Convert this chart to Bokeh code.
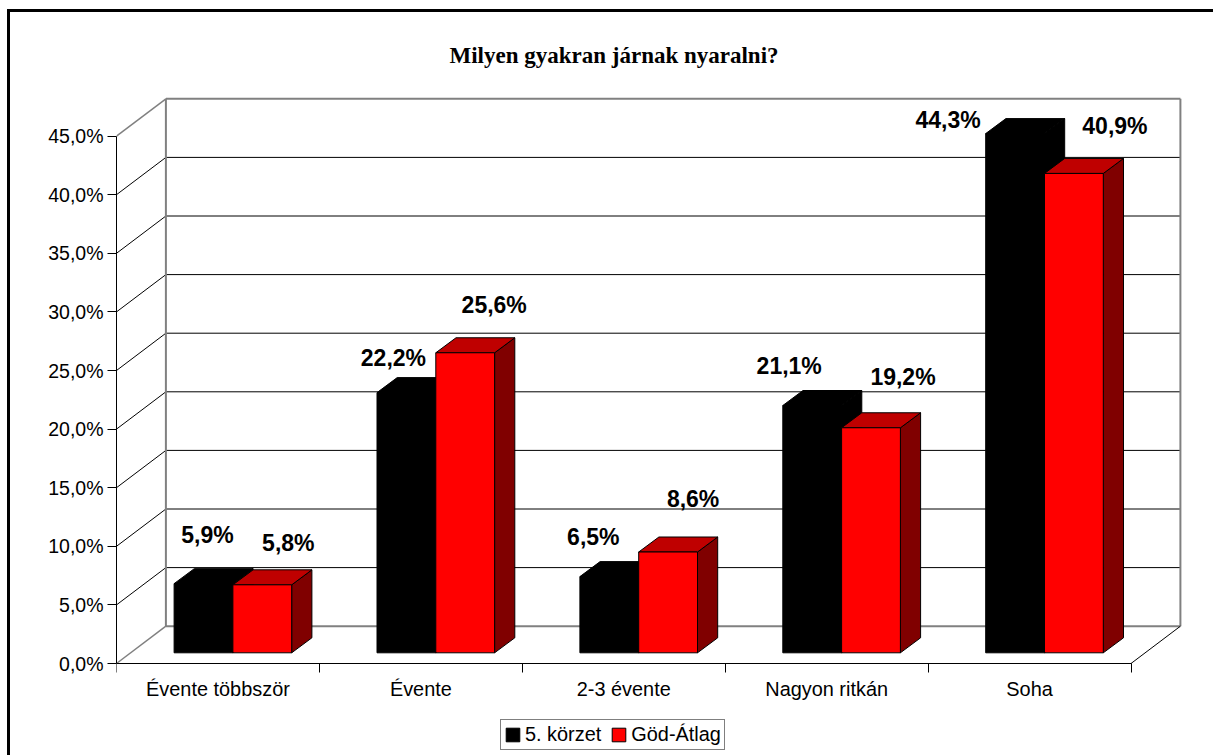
from bokeh.plotting import figure
from bokeh.embed import file_html
from bokeh.resources import INLINE
from bokeh.models import ColumnDataSource, FixedTicker, Range1d, Legend, LegendItem
from bokeh.core.properties import value

categories = ["Évente többször", "Évente", "2-3 évente", "Nagyon ritkán", "Soha"]
series_names = ["5. körzet", "Göd-Átlag"]
korzet = [5.9, 22.2, 6.5, 21.1, 44.3]
god = [5.8, 25.6, 8.6, 19.2, 40.9]
labels_korzet = ["5,9%", "22,2%", "6,5%", "21,1%", "44,3%"]
labels_god = ["5,8%", "25,6%", "8,6%", "19,2%", "40,9%"]
y_ticks = [0, 5, 10, 15, 20, 25, 30, 35, 40, 45]
y_tick_labels = ["0,0%", "5,0%", "10,0%", "15,0%", "20,0%", "25,0%", "30,0%", "35,0%", "40,0%", "45,0%"]

# label nudges relative to bar top centre (px)
lab_dx_k = [4, -13, -16, -23, -67]
lab_dy_k = [49, 35, 40, 40, 14]
lab_dx_g = [26, 29, 25, 32, 41]
lab_dy_g = [42, 48, 53, 51, 47]

OX, OY = 11, 13      # canvas origin on the page, inside the border
W, H = 1206, 746
CAT_PX = 202.9   # px per category
VAL_PX = 11.72   # px per percent
FL, FT = 117 - OX, 94 - OY     # frame left / top within canvas
FW = 1068            # frame width
ABOVE_ZERO, BELOW_ZERO = 570, H - FT - 570   # frame height above and below the zero line
WALL_DX, WALL_DY = 49.4, 37.3   # depth of chart box in px
BAR_OFF_DX, BAR_OFF_DY = 14.1, 10.7  # front of the bars, from the front of the box
BAR_D_DX, BAR_D_DY = 20.2, 15.0      # bar depth
GAP_PX, BAR_PX = 43.5, 58.8

def xd(px): return px / CAT_PX
def yd(px): return px / VAL_PX

p = figure(width=W, height=H, output_backend="svg", toolbar_location=None,
           x_range=Range1d(0, FW / CAT_PX), y_range=Range1d(-BELOW_ZERO / VAL_PX, ABOVE_ZERO / VAL_PX),
           min_border_left=FL, min_border_right=W - FL - FW,
           min_border_top=FT, min_border_bottom=0,
           background_fill_color="white", border_fill_color="white",
           margin=(9, 0, 0, 7),
           styles={"border-left": "3px solid black", "border-top": "3px solid black"})
p.outline_line_color = None
p.grid.visible = False

# box walls
wx, wy = xd(WALL_DX), yd(WALL_DY)
n = len(categories)
inner = y_ticks[1:-1]
p.segment(x0=[wx] * len(inner), y0=[v + wy for v in inner], x1=[n + wx] * len(inner), y1=[v + wy for v in inner],
          line_color="#000000", line_width=1)
p.segment(x0=[0] * len(inner), y0=inner, x1=[wx] * len(inner), y1=[v + wy for v in inner],
          line_color="#000000", line_width=1)
ends = [y_ticks[0], y_ticks[-1]]
p.segment(x0=[wx, wx], y0=[v + wy for v in ends], x1=[n + wx] * 2, y1=[v + wy for v in ends],
          line_color="#808080", line_width=2)
p.segment(x0=[0, 0], y0=ends, x1=[wx, wx], y1=[v + wy for v in ends], line_color="#808080", line_width=1.5)
p.segment(x0=[wx, n + wx], y0=[wy, wy], x1=[wx, n + wx], y1=[y_ticks[-1] + wy] * 2,
          line_color="#808080", line_width=2)
p.segment(x0=[n], y0=[0], x1=[n + wx], y1=[wy], line_color="#000000", line_width=1)

# bars
base = yd(BAR_OFF_DY)
def bar_x(i, s):
    return i + xd(BAR_OFF_DX + GAP_PX) + s * xd(BAR_PX)

def draw(vals, s, front, top_c, side_c):
    left = [bar_x(i, s) for i in range(n)]
    right = [l + xd(BAR_PX) for l in left]
    tops = [base + v for v in vals]
    ddx, ddy = xd(BAR_D_DX), yd(BAR_D_DY)
    p.patches(xs=[[r, r + ddx, r + ddx, r] for r in right],
              ys=[[base, base + ddy, t + ddy, t] for t in tops],
              fill_color=side_c, line_color="black", line_width=1)
    p.patches(xs=[[l, l + ddx, r + ddx, r] for l, r in zip(left, right)],
              ys=[[t, t + ddy, t + ddy, t] for t in tops],
              fill_color=top_c, line_color="black", line_width=1)
    return p.quad(left=left, right=right, bottom=[base] * n, top=tops,
                  fill_color=front, line_color="black", line_width=1)

r_k = draw(korzet, 0, "#000000", "#000000", "#000000")
r_g = draw(god, 1, "#FF0000", "#BF0000", "#800000")

# data labels
def lab(vals, s, texts, dxs, dys):
    src = ColumnDataSource(dict(
        x=[bar_x(i, s) + xd(BAR_PX) / 2 for i in range(n)],
        y=[base + v for v in vals],
        t=texts, dx=dxs, dy=[-d for d in dys]))
    p.text(x="x", y="y", text="t", x_offset="dx", y_offset="dy", source=src,
           text_font=value("Liberation Sans"), text_font_style="bold", text_font_size="23px",
           text_color="black", text_align="center", text_baseline="middle")
lab(korzet, 0, labels_korzet, lab_dx_k, lab_dy_k)
lab(god, 1, labels_god, lab_dx_g, lab_dy_g)

# axes
ya = p.yaxis[0]
ya.bounds = (y_ticks[0], y_ticks[-1])
ya.ticker = FixedTicker(ticks=y_ticks)
ya.major_label_overrides = dict(zip(y_ticks, y_tick_labels))
ya.major_tick_out = 9
ya.major_tick_in = 0
ya.minor_tick_out = 0
ya.minor_tick_in = 0
ya.major_label_standoff = 4
ya.major_label_text_font = "Liberation Sans"
ya.major_label_text_font_size = "19.5px"
ya.major_label_text_color = "black"
ya.axis_line_color = "black"
ya.major_tick_line_color = "black"

centres = [i + 0.5 for i in range(n)]
xa = p.xaxis[0]
xa.fixed_location = 0
xa.bounds = (0, n)
xa.ticker = FixedTicker(ticks=centres, minor_ticks=list(range(n + 1)))
xa.major_label_overrides = dict(zip(centres, categories))
xa.major_tick_out = 0
xa.major_tick_in = 0
xa.minor_tick_out = 9
xa.minor_tick_in = 0
xa.major_label_standoff = 5
xa.major_label_text_font = "Liberation Sans"
xa.major_label_text_font_size = "19.9px"
xa.major_label_text_color = "black"
xa.axis_line_color = "black"
xa.minor_tick_line_color = "black"

# title
p.title.text = "Milyen gyakran járnak nyaralni?"
p.title.text_font = "Liberation Serif"
p.title.text_font_style = "bold"
p.title.text_font_size = "23px"
p.title.text_color = "black"
p.title.align = "left"
p.title.offset = 450 - 117
p.title.standoff = 51

# legend
leg = Legend(items=[LegendItem(label=series_names[0], renderers=[r_k]),
                    LegendItem(label=series_names[1], renderers=[r_g])],
             orientation="horizontal", location=(501 - 117, 8),
             label_text_font="Liberation Sans", label_text_font_size="19.9px", label_text_color="black",
             glyph_width=17, glyph_height=17, label_standoff=4, spacing=9, padding=3, margin=0,
             border_line_color="black", border_line_width=1, background_fill_color="white",
             background_fill_alpha=1)
p.add_layout(leg, "center")

open("out.html", "w").write(file_html(p, INLINE))
